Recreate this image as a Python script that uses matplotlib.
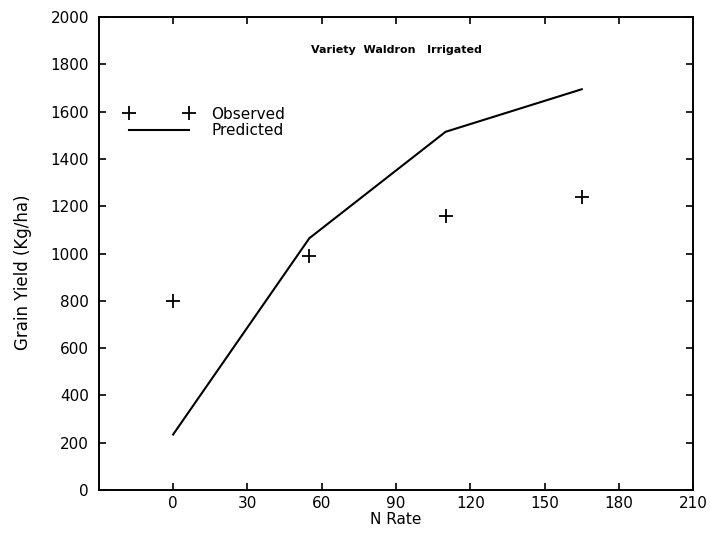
import matplotlib
matplotlib.use("Agg")
import matplotlib.pyplot as plt
from matplotlib.lines import Line2D

# ----------------- Data -----------------
n_rate_obs = [0, 55, 110, 165]
yield_obs = [800, 990, 1160, 1240]

n_rate_pred = [0, 55, 110, 165]
yield_pred = [235, 1065, 1515, 1695]

x_ticks = [0, 30, 60, 90, 120, 150, 180, 210]
y_ticks = [0, 200, 400, 600, 800, 1000, 1200, 1400, 1600, 1800, 2000]

# ----------------- Plot -----------------
fig = plt.figure(figsize=(7.11, 5.35), dpi=100)
ax = fig.add_axes([0.139, 0.084, 0.836, 0.884])

ax.plot(n_rate_pred, yield_pred, color="black", lw=1.5)
ax.plot(n_rate_obs, yield_obs, ls="none", marker="+", ms=10, mew=1.3, color="black")

ax.set_xlim(-30, 210)
ax.set_ylim(0, 2000)
ax.set_xticks(x_ticks)
ax.set_yticks(y_ticks)
ax.tick_params(direction="in", length=5, width=1.2, top=True, right=True,
               labelsize=11, pad=7)
ax.tick_params(axis="x", pad=4)
for side in ax.spines.values():
    side.set_linewidth(1.4)

ax.set_xlabel("N Rate", fontsize=11, labelpad=1)
ax.set_ylabel("Grain Yield (Kg/ha)", fontsize=12)
ax.yaxis.set_label_coords(-0.112, 0.46)

ax.text(0.50, 0.93, "Variety  Waldron   Irrigated", transform=ax.transAxes,
        ha="center", va="center", fontsize=8, fontweight="bold")

handles = [
    Line2D([], [], ls="none", marker="+", ms=10, mew=1.3, color="black"),
    Line2D([], [], color="black", lw=1.5),
]
ax.legend(handles, ["Observed", "Predicted"], loc="upper left",
          bbox_to_anchor=(0.02, 0.84), frameon=False, numpoints=2,
          handlelength=4.5, fontsize=11, labelspacing=0.1, handletextpad=1.2)

fig.savefig("out.png", dpi=100)
